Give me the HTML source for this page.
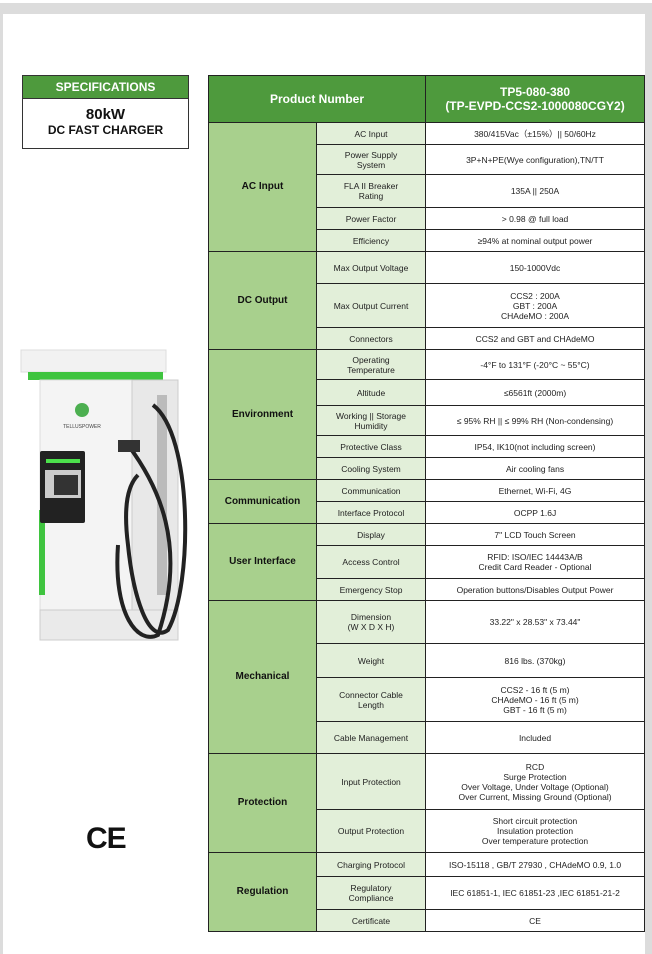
<!DOCTYPE html>
<html><head><meta charset="utf-8"><style>
body{margin:0;width:652px;height:954px;background:#dcdcdc;font-family:"Liberation Sans",sans-serif;position:relative;overflow:hidden}
.top{position:absolute;left:0;top:0;width:652px;height:3px;background:#fff}
.panel{position:absolute;left:3px;top:14px;width:642px;height:940px;background:#fff}
.spec{position:absolute;left:22px;top:75px;width:167px;height:74px;border:1px solid #333;box-sizing:border-box}
.spec .h{background:#4e9a3d;color:#fff;font-weight:bold;font-size:12px;text-align:center;height:22px;line-height:22px;border-bottom:1px solid #333}
.spec .b{text-align:center;font-weight:bold;color:#111}
table{position:absolute;left:208px;top:75px;border-collapse:collapse;table-layout:fixed;width:436px}
td{border:1px solid #222;text-align:center;font-size:8.5px;color:#222;padding:0;line-height:10px}
td.c{background:#a8d08d;font-weight:bold;font-size:10px;color:#111}
td.s{background:#e2efd9}
td.hd{background:#4e9a3d;color:#fff;font-weight:bold;font-size:12px;line-height:14px}
</style></head><body>
<div class="top"></div>
<div class="panel"></div>
<div class="spec"><div class="h">SPECIFICATIONS</div><div class="b"><div style="font-size:15px;margin-top:7px;line-height:17px">80kW</div><div style="font-size:12px;line-height:14px">DC FAST CHARGER</div></div></div>
<svg style="position:absolute;left:18px;top:345px" width="180" height="300">
<rect x="3" y="5" width="145" height="22" fill="#f2f2f2" stroke="#ddd"/>
<rect x="10" y="27" width="135" height="8" fill="#3fc43f"/>
<rect x="22" y="35" width="92" height="230" fill="#f4f4f4" stroke="#ddd"/>
<rect x="114" y="35" width="46" height="230" fill="#e8e8e8" stroke="#ccc"/>
<rect x="22" y="265" width="138" height="30" fill="#eaeaea" stroke="#ccc"/>
<rect x="21" y="165" width="6" height="85" fill="#3fc43f"/>
<circle cx="64" cy="65" r="7" fill="#4caf50"/>
<text x="64" y="83" font-size="5" text-anchor="middle" fill="#444" font-family="Liberation Sans">TELLUSPOWER</text>
<rect x="22" y="106" width="45" height="72" fill="#222" rx="2"/>
<rect x="28" y="114" width="34" height="4" fill="#4ce04c"/>
<rect x="27" y="125" width="36" height="28" fill="#ccc"/>
<rect x="36" y="130" width="24" height="20" fill="#333"/>
<rect x="139" y="50" width="10" height="200" fill="#bbb"/>
<path d="M135 60 C175 90 175 240 150 285 C130 300 115 250 110 200 C105 160 110 140 120 130" stroke="#222" stroke-width="4" fill="none"/>
<path d="M110 100 C140 140 170 200 140 290 C120 300 95 270 100 200" stroke="#222" stroke-width="4" fill="none"/>
<rect x="100" y="95" width="22" height="12" fill="#333"/>
</svg>
<div style="position:absolute;left:86px;top:822px;font-size:30px;font-weight:bold;color:#111;letter-spacing:-1px">CE</div>
<table>
<colgroup><col style="width:108px"><col style="width:109px"><col style="width:219px"></colgroup>
<tr style="height:47px"><td class="hd" colspan="2">Product Number</td><td class="hd">TP5-080-380<br>(TP-EVPD-CCS2-1000080CGY2)</td></tr>
<tr style="height:22px"><td class="c" rowspan="5">AC Input</td><td class="s">AC Input</td><td>380/415Vac（±15%）|| 50/60Hz</td></tr>
<tr style="height:30px"><td class="s">Power Supply<br>System</td><td>3P+N+PE(Wye configuration),TN/TT</td></tr>
<tr style="height:33px"><td class="s">FLA II Breaker<br>Rating</td><td>135A || 250A</td></tr>
<tr style="height:22px"><td class="s">Power Factor</td><td>&gt; 0.98 @ full load</td></tr>
<tr style="height:22px"><td class="s">Efficiency</td><td>≥94% at nominal output power</td></tr>
<tr style="height:32px"><td class="c" rowspan="3">DC Output</td><td class="s">Max Output Voltage</td><td>150-1000Vdc</td></tr>
<tr style="height:44px"><td class="s">Max Output Current</td><td>CCS2 : 200A<br>GBT : 200A<br>CHAdeMO : 200A</td></tr>
<tr style="height:22px"><td class="s">Connectors</td><td>CCS2 and GBT and CHAdeMO</td></tr>
<tr style="height:30px"><td class="c" rowspan="5">Environment</td><td class="s">Operating<br>Temperature</td><td>-4°F to 131°F (-20°C ~ 55°C)</td></tr>
<tr style="height:26px"><td class="s">Altitude</td><td>≤6561ft (2000m)</td></tr>
<tr style="height:30px"><td class="s">Working || Storage<br>Humidity</td><td>≤ 95% RH || ≤ 99% RH (Non-condensing)</td></tr>
<tr style="height:22px"><td class="s">Protective Class</td><td>IP54, IK10(not including screen)</td></tr>
<tr style="height:22px"><td class="s">Cooling System</td><td>Air cooling fans</td></tr>
<tr style="height:22px"><td class="c" rowspan="2">Communication</td><td class="s">Communication</td><td>Ethernet, Wi-Fi, 4G</td></tr>
<tr style="height:22px"><td class="s">Interface Protocol</td><td>OCPP 1.6J</td></tr>
<tr style="height:22px"><td class="c" rowspan="3">User Interface</td><td class="s">Display</td><td>7" LCD Touch Screen</td></tr>
<tr style="height:33px"><td class="s">Access Control</td><td>RFID: ISO/IEC 14443A/B<br>Credit Card Reader - Optional</td></tr>
<tr style="height:22px"><td class="s">Emergency Stop</td><td>Operation buttons/Disables Output Power</td></tr>
<tr style="height:43px"><td class="c" rowspan="4">Mechanical</td><td class="s">Dimension<br>(W X D X H)</td><td>33.22" x 28.53" x 73.44"</td></tr>
<tr style="height:34px"><td class="s">Weight</td><td>816 lbs. (370kg)</td></tr>
<tr style="height:44px"><td class="s">Connector Cable<br>Length</td><td>CCS2 - 16 ft (5 m)<br>CHAdeMO - 16 ft (5 m)<br>GBT - 16 ft (5 m)</td></tr>
<tr style="height:32px"><td class="s">Cable Management</td><td>Included</td></tr>
<tr style="height:56px"><td class="c" rowspan="2">Protection</td><td class="s">Input Protection</td><td>RCD<br>Surge Protection<br>Over Voltage, Under Voltage (Optional)<br>Over Current, Missing Ground (Optional)</td></tr>
<tr style="height:43px"><td class="s">Output Protection</td><td>Short circuit protection<br>Insulation protection<br>Over temperature protection</td></tr>
<tr style="height:24px"><td class="c" rowspan="3">Regulation</td><td class="s">Charging Protocol</td><td>ISO-15118 , GB/T 27930 , CHAdeMO 0.9, 1.0</td></tr>
<tr style="height:33px"><td class="s">Regulatory<br>Compliance</td><td>IEC 61851-1, IEC 61851-23 ,IEC 61851-21-2</td></tr>
<tr style="height:22px"><td class="s">Certificate</td><td>CE</td></tr>
</table>
</body></html>
